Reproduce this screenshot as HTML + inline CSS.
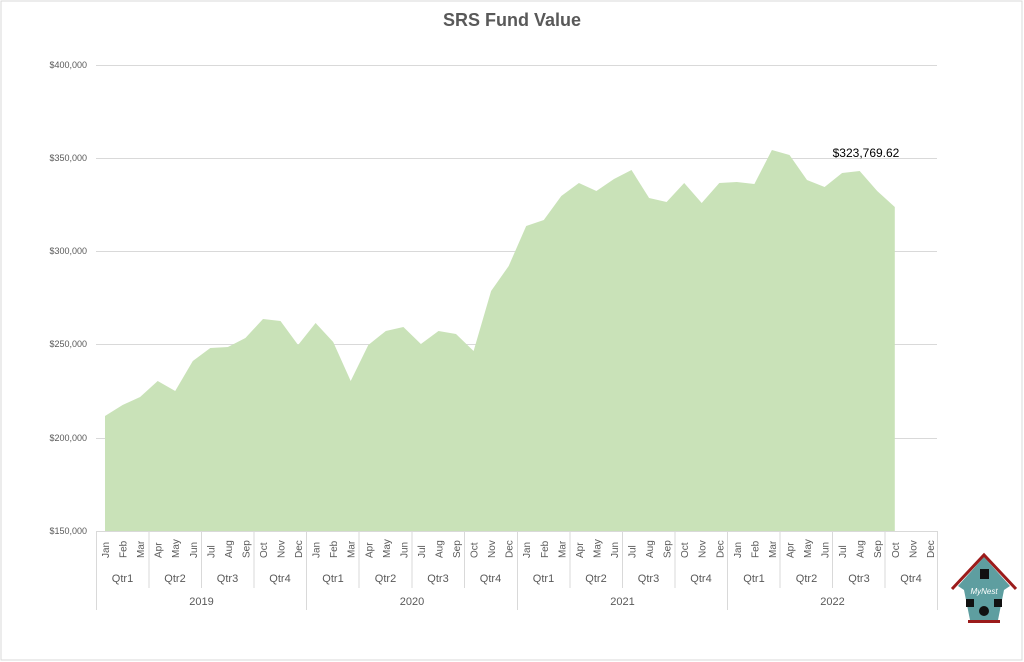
<!DOCTYPE html>
<html><head><meta charset="utf-8"><style>
html,body{margin:0;padding:0;background:#fff;}
svg{display:block;font-family:"Liberation Sans",sans-serif;}
</style></head><body>
<svg width="1024" height="662" viewBox="0 0 1024 662">
<rect x="1" y="1" width="1021" height="659" fill="#fff" stroke="#d9d9d9"/>
<text x="512" y="26" text-anchor="middle" font-size="18" font-weight="bold" fill="#595959">SRS Fund Value</text>
<g stroke="#d9d9d9" stroke-width="1">
<line x1="96" y1="65.5" x2="937" y2="65.5"/><line x1="96" y1="158.5" x2="937" y2="158.5"/>
<line x1="96" y1="251.5" x2="937" y2="251.5"/><line x1="96" y1="344.5" x2="937" y2="344.5"/>
<line x1="96" y1="438.5" x2="937" y2="438.5"/><line x1="96" y1="531.5" x2="937" y2="531.5"/>
</g>
<g font-size="9" fill="#595959" text-anchor="end">
<text x="87" y="68">$400,000</text><text x="87" y="161">$350,000</text><text x="87" y="254">$300,000</text>
<text x="87" y="347">$250,000</text><text x="87" y="441">$200,000</text><text x="87" y="534">$150,000</text>
</g>
<polygon fill="#c9e2b8" points="105,531 105,416 122.6,405 140.1,397 157.7,381 175.2,391 192.8,361 210.3,348 227.9,347 245.4,338 263,319 280.5,321 298.1,345 315.6,323 333.2,342 350.7,381 368.3,345 385.8,331 403.4,327 420.9,344 438.5,331 456,334 473.6,351 491.1,291 508.7,266 526.2,226 543.8,220 561.3,196 578.9,183 596.4,191 614,179 631.5,170 649.1,198 666.6,202 684.2,183 701.7,203 719.3,183 736.8,182 754.4,184 771.9,150 789.5,155 807,180 824.6,187 842.1,173 859.7,171 877.2,191 894.8,207 894.8,531"/>
<text x="866" y="157" text-anchor="middle" font-size="12" fill="#000">$323,769.62</text>
<g stroke="#d9d9d9" stroke-width="1">
<line x1="96.5" y1="531" x2="96.5" y2="610"/><line x1="306.5" y1="531" x2="306.5" y2="610"/>
<line x1="517.5" y1="531" x2="517.5" y2="610"/><line x1="727.5" y1="531" x2="727.5" y2="610"/>
<line x1="937.5" y1="531" x2="937.5" y2="610"/>
<line x1="149" y1="531" x2="149" y2="588"/><line x1="201.5" y1="531" x2="201.5" y2="588"/><line x1="254" y1="531" x2="254" y2="588"/>
<line x1="359" y1="531" x2="359" y2="588"/><line x1="412" y1="531" x2="412" y2="588"/><line x1="464.5" y1="531" x2="464.5" y2="588"/>
<line x1="570" y1="531" x2="570" y2="588"/><line x1="622.5" y1="531" x2="622.5" y2="588"/><line x1="675" y1="531" x2="675" y2="588"/>
<line x1="780" y1="531" x2="780" y2="588"/><line x1="832.5" y1="531" x2="832.5" y2="588"/><line x1="885" y1="531" x2="885" y2="588"/>
</g>
<g font-size="10" fill="#595959">
<text transform="translate(109,558) rotate(-90)">Jan</text><text transform="translate(126.6,558) rotate(-90)">Feb</text><text transform="translate(144.1,558) rotate(-90)">Mar</text>
<text transform="translate(161.7,558) rotate(-90)">Apr</text><text transform="translate(179.2,558) rotate(-90)">May</text><text transform="translate(196.8,558) rotate(-90)">Jun</text>
<text transform="translate(214.3,558) rotate(-90)">Jul</text><text transform="translate(231.9,558) rotate(-90)">Aug</text><text transform="translate(249.4,558) rotate(-90)">Sep</text>
<text transform="translate(267,558) rotate(-90)">Oct</text><text transform="translate(284.5,558) rotate(-90)">Nov</text><text transform="translate(302.1,558) rotate(-90)">Dec</text>
<text transform="translate(319.6,558) rotate(-90)">Jan</text><text transform="translate(337.2,558) rotate(-90)">Feb</text><text transform="translate(354.7,558) rotate(-90)">Mar</text>
<text transform="translate(372.3,558) rotate(-90)">Apr</text><text transform="translate(389.8,558) rotate(-90)">May</text><text transform="translate(407.4,558) rotate(-90)">Jun</text>
<text transform="translate(424.9,558) rotate(-90)">Jul</text><text transform="translate(442.5,558) rotate(-90)">Aug</text><text transform="translate(460,558) rotate(-90)">Sep</text>
<text transform="translate(477.6,558) rotate(-90)">Oct</text><text transform="translate(495.1,558) rotate(-90)">Nov</text><text transform="translate(512.7,558) rotate(-90)">Dec</text>
<text transform="translate(530.2,558) rotate(-90)">Jan</text><text transform="translate(547.8,558) rotate(-90)">Feb</text><text transform="translate(565.3,558) rotate(-90)">Mar</text>
<text transform="translate(582.9,558) rotate(-90)">Apr</text><text transform="translate(600.4,558) rotate(-90)">May</text><text transform="translate(618,558) rotate(-90)">Jun</text>
<text transform="translate(635.5,558) rotate(-90)">Jul</text><text transform="translate(653.1,558) rotate(-90)">Aug</text><text transform="translate(670.6,558) rotate(-90)">Sep</text>
<text transform="translate(688.2,558) rotate(-90)">Oct</text><text transform="translate(705.7,558) rotate(-90)">Nov</text><text transform="translate(723.3,558) rotate(-90)">Dec</text>
<text transform="translate(740.8,558) rotate(-90)">Jan</text><text transform="translate(758.4,558) rotate(-90)">Feb</text><text transform="translate(775.9,558) rotate(-90)">Mar</text>
<text transform="translate(793.5,558) rotate(-90)">Apr</text><text transform="translate(811,558) rotate(-90)">May</text><text transform="translate(828.6,558) rotate(-90)">Jun</text>
<text transform="translate(846.1,558) rotate(-90)">Jul</text><text transform="translate(863.7,558) rotate(-90)">Aug</text><text transform="translate(881.2,558) rotate(-90)">Sep</text>
<text transform="translate(898.8,558) rotate(-90)">Oct</text><text transform="translate(916.3,558) rotate(-90)">Nov</text><text transform="translate(933.9,558) rotate(-90)">Dec</text>
</g>
<g font-size="11" fill="#595959" text-anchor="middle">
<text x="122.5" y="582">Qtr1</text><text x="175" y="582">Qtr2</text><text x="227.5" y="582">Qtr3</text><text x="280" y="582">Qtr4</text>
<text x="333" y="582">Qtr1</text><text x="385.5" y="582">Qtr2</text><text x="438" y="582">Qtr3</text><text x="490.5" y="582">Qtr4</text>
<text x="543.5" y="582">Qtr1</text><text x="596" y="582">Qtr2</text><text x="648.5" y="582">Qtr3</text><text x="701" y="582">Qtr4</text>
<text x="754" y="582">Qtr1</text><text x="806.5" y="582">Qtr2</text><text x="859" y="582">Qtr3</text><text x="911" y="582">Qtr4</text>
<text x="201.5" y="605">2019</text><text x="412" y="605">2020</text><text x="622.5" y="605">2021</text><text x="832.5" y="605">2022</text>
</g>
<g>
<polygon points="984,557 1010,586 1004,590 998,620 970,620 964,590 958,586" fill="#5e9ea0"/>
<polyline points="952,589 984,555 1016,589" fill="none" stroke="#9b1b1b" stroke-width="3"/>
<rect x="968" y="620" width="32" height="3" fill="#9b1b1b"/>
<rect x="980" y="569" width="9" height="10" fill="#111"/>
<text x="984" y="594" text-anchor="middle" font-size="8" font-style="italic" fill="#fff">MyNest</text>
<rect x="966" y="599" width="8" height="8" fill="#111"/><rect x="994" y="599" width="8" height="8" fill="#111"/>
<circle cx="984" cy="611" r="5" fill="#111"/>
</g>
</svg>
</body></html>
